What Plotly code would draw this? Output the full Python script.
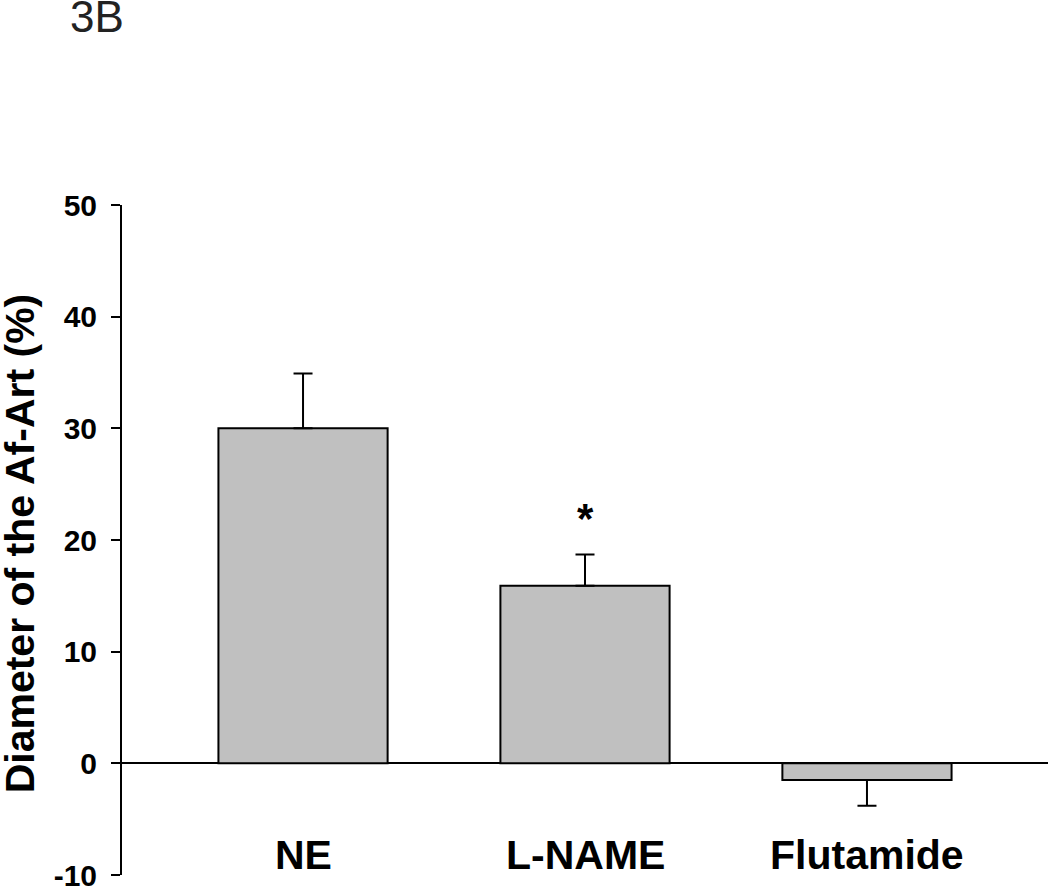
import plotly.graph_objects as go

categories = ["NE", "L-NAME", "Flutamide"]
values = [30.0, 15.9, -1.5]
err_up = [4.9, 2.8, 0.0]
err_down = [0.0, 0.0, 2.3]
y_ticks = [-10, 0, 10, 20, 30, 40, 50]
star_cat = "L-NAME"
star_y = 21.9
label_y = -8.2

FONT = "Liberation Sans, Arial, sans-serif"

fig = go.Figure()
fig.add_trace(go.Bar(
    x=categories, y=values,
    marker=dict(color="#c0c0c0", line=dict(color="black", width=2)),
    width=0.6,
    error_y=dict(type="data", symmetric=False, array=err_up, arrayminus=err_down,
                 color="black", thickness=2, width=9.5),
    showlegend=False,
))

annotations = []
for c in categories:
    annotations.append(dict(x=c, y=label_y, xref="x", yref="y", text=c, showarrow=False,
                            font=dict(family=FONT, size=41, color="black", weight="bold"),
                            xanchor="center", yanchor="middle"))
annotations.append(dict(x=star_cat, y=star_y, xref="x", yref="y", text="*", showarrow=False,
                        font=dict(family=FONT, size=42, color="black", weight="bold"),
                        xanchor="center", yanchor="middle"))
annotations.append(dict(x=(20 - 122) / 926, y=0.495, xref="paper", yref="paper",
                        text="Diameter of the Af-Art (%)", textangle=-90, showarrow=False,
                        font=dict(family=FONT, size=41, color="black", weight="bold"),
                        xanchor="center", yanchor="middle"))
annotations.append(dict(x=(68 - 122) / 926, y=1 + (205 + 10) / 670, xref="paper", yref="paper",
                        text="3B", showarrow=False,
                        font=dict(family=FONT, size=44, color="#222222"),
                        xanchor="left", yanchor="top"))

fig.update_layout(
    width=1050, height=886,
    margin=dict(l=122, r=2, t=205, b=11, pad=0),
    plot_bgcolor="white", paper_bgcolor="white",
    annotations=annotations,
    xaxis=dict(range=[-0.642, 2.642], showticklabels=False, showline=False,
               ticks="", showgrid=False, zeroline=False, automargin=False),
    yaxis=dict(range=[-10, 50], tickvals=y_ticks, ticktext=[str(v) for v in y_ticks],
               showline=True, linecolor="black", linewidth=2,
               ticks="outside", ticklen=9, tickwidth=2, tickcolor="black",
               ticklabelstandoff=8, ticklabeloverflow="allow", automargin=False,
               tickfont=dict(family=FONT, size=30, color="black", weight="bold"),
               showgrid=False, zeroline=True, zerolinecolor="black", zerolinewidth=2),
)

fig.write_html("out.html", post_script="document.body.style.margin='0';",
               config={"displayModeBar": False})
